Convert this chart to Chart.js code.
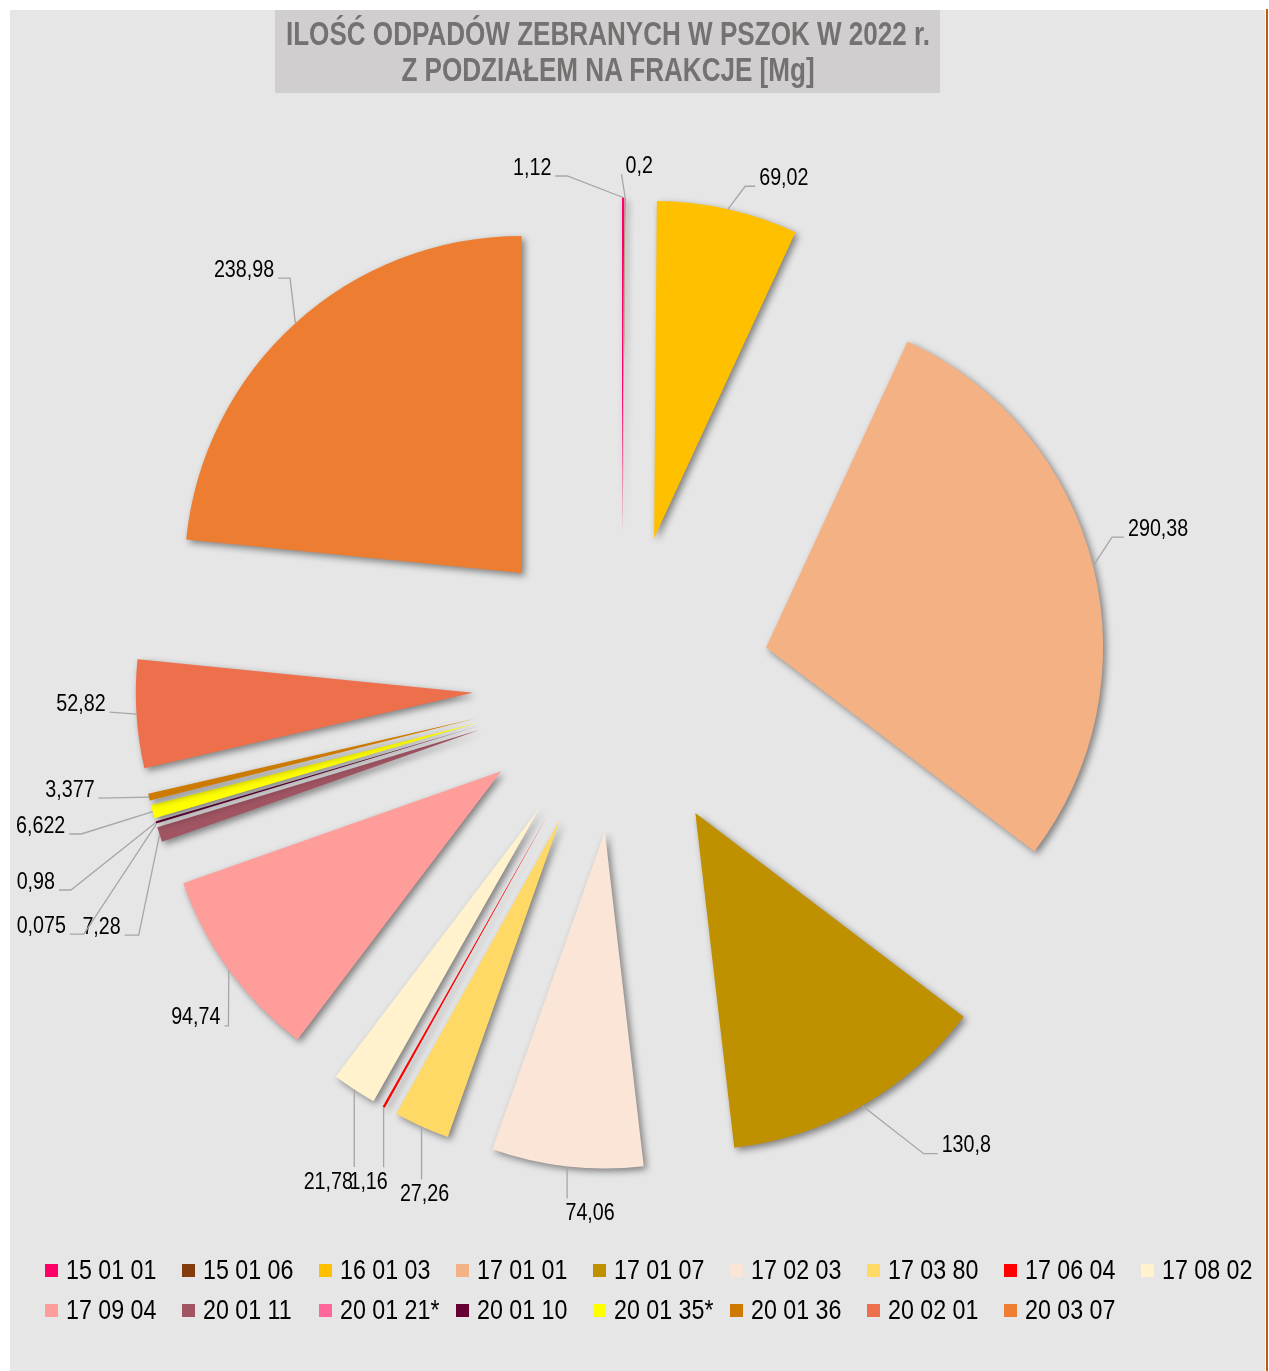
<!DOCTYPE html>
<html lang="pl">
<head>
<meta charset="utf-8">
<title>PSZOK 2022</title>
<script src="https://cdn.jsdelivr.net/npm/chart.js@4.4.0/dist/chart.umd.min.js"></script>
<style>
  html, body { margin: 0; padding: 0; background: #fff; }
  body { width: 1269px; height: 1371px; position: relative; overflow: hidden;
         font-family: 'Liberation Sans', Arial, sans-serif; }
  #panel { position: absolute; left: 10px; top: 10px; width: 1255px; height: 1361px; background: #e6e6e6; }
  #edge { position: absolute; left: 1266px; top: 9px; width: 2px; height: 1362px; background: #c55a11; }
  #title { position: absolute; left: 275px; top: 10px; width: 665px; height: 83px; box-sizing: border-box;
           padding-top: 6px; background: #d0cece; color: #767171; font-weight: bold;
           font-size: 33px; line-height: 36px; text-align: center; white-space: nowrap; }
  #title span { display: block; width: 1000px; margin-left: -167.5px;
                transform: scaleX(0.79); transform-origin: center; }
  #chart { position: absolute; left: 0; top: 0; }
  #legend { position: absolute; left: 45px; top: 1250px; display: grid;
            grid-template-columns: repeat(9, 137px); }
  .item { display: flex; align-items: center; height: 40px; font-size: 28px; color: #000; white-space: nowrap; }
  .item i { display: block; width: 13px; height: 13px; margin-right: 8px; flex: none; }
  .item span { display: inline-block; transform: scaleX(0.83); transform-origin: left center; }
</style>
</head>
<body>
<div id="panel"></div>
<div id="edge"></div>
<canvas id="chart" width="1269" height="1371"></canvas>
<div id="title"><span>ILOŚĆ ODPADÓW ZEBRANYCH W PSZOK W 2022 r.</span><span>Z PODZIAŁEM NA FRAKCJE [Mg]</span></div>
<div id="legend"></div>
<script>
// kody odpadów i ilości [Mg]
const categories = ['15 01 01', '15 01 06', '16 01 03', '17 01 01', '17 01 07', '17 02 03', '17 03 80',
  '17 06 04', '17 08 02', '17 09 04', '20 01 11', '20 01 21*', '20 01 10', '20 01 35*', '20 01 36',
  '20 02 01', '20 03 07'];
const amounts = [1.12, 0.2, 69.02, 290.38, 130.8, 74.06, 27.26, 1.16, 21.78, 94.74, 7.28, 0.075, 0.98,
  6.622, 3.377, 52.82, 238.98];
const colors = ['#ff0066', '#843c0c', '#ffc000', '#f4b183', '#bf9000', '#fbe5d6', '#ffd966', '#ff0000',
  '#fff2cc', '#ff9d9a', '#a15563', '#ff6699', '#660033', '#ffff00', '#cc7a00', '#ed6f4b', '#ed7d31'];

// ustawienia etykiet: przesunięcie tekstu od punktu na łuku, strona linii, długość załamania
const labelShift = [[-91, -29.5], [14, -31.5], [56, -31], [65, -37], [104, 40], [23, 47], [3, 68],
  [-15, 75], [-26, 92.5], [-33, 48], [-58, 92.5], [-115, 102], [-120, 59.5], [-112, 14.4], [-79, -7],
  [-55.5, -10], [-51.4, -53]];
const labelSide = ['left', 'right', 'right', 'right', 'right', 'below', 'below', 'below', 'below',
  'left', 'left', 'left', 'left', 'left', 'left', 'left', 'left'];
const labelElbow = [12, 0, 10, 12, 14, 0, 0, 0, 0, 4, 14, 14, 12, 12, 0, 0, 12];

const EXPLODE = 149;   // odsunięcie wycinków od środka
const RADIUS = 337;
const NARROW = 0.82;   // Arial Narrow ~ Arial zwężony
const FONT = '"Liberation Sans", Arial, sans-serif';

// wycinek odsunięty od środka (bez zmiany promienia i kąta jak przy wbudowanym offset)
class ExplodedArc extends Chart.ArcElement {
  draw(ctx) {
    const half = (this.startAngle + this.endAngle) / 2;
    ctx.save();
    ctx.translate(Math.cos(half) * EXPLODE, Math.sin(half) * EXPLODE);
    ctx.shadowColor = 'rgba(0,0,0,0.45)';
    ctx.shadowBlur = 7;
    ctx.shadowOffsetX = 3;
    ctx.shadowOffsetY = 3;
    super.draw(ctx);
    ctx.restore();
  }
}
ExplodedArc.id = 'explodedArc';

class ExplodedPie extends Chart.PieController {}
ExplodedPie.id = 'explodedPie';
ExplodedPie.defaults = { dataElementType: 'explodedArc' };

Chart.register(ExplodedArc, ExplodedPie);

const pieLabels = {
  id: 'pieLabels',
  afterDatasetsDraw(chart) {
    const ctx = chart.ctx;
    const meta = chart.getDatasetMeta(0);
    ctx.save();
    ctx.font = '24px ' + FONT;
    ctx.textAlign = 'center';
    ctx.textBaseline = 'middle';
    ctx.strokeStyle = '#a6a6a6';
    ctx.lineWidth = 1.3;
    ctx.fillStyle = '#000';
    meta.data.forEach((arc, i) => {
      const half = (arc.startAngle + arc.endAngle) / 2;
      const r = arc.outerRadius + EXPLODE;
      const ax = arc.x + Math.cos(half) * r;
      const ay = arc.y + Math.sin(half) * r;
      const txt = String(amounts[i]).replace('.', ',');
      const tx = ax + labelShift[i][0];
      const ty = ay + labelShift[i][1];
      const w = ctx.measureText(txt).width * NARROW;
      ctx.beginPath();
      ctx.moveTo(ax, ay);
      if (labelSide[i] === 'below') {
        ctx.lineTo(ax, ty - 15);
      } else {
        const dir = labelSide[i] === 'left' ? 1 : -1;
        const ex = tx + dir * (w / 2 + 4);
        const ey = ty + 8;
        if (labelElbow[i]) ctx.lineTo(ex + dir * labelElbow[i], ey);
        ctx.lineTo(ex, ey);
      }
      ctx.stroke();
      ctx.save();
      ctx.translate(tx, ty);
      ctx.scale(NARROW, 1);
      ctx.fillText(txt, 0, 0);
      ctx.restore();
    });
    ctx.restore();
  }
};

new Chart(document.getElementById('chart'), {
  type: 'explodedPie',
  data: {
    labels: categories,
    datasets: [{
      data: amounts,
      backgroundColor: colors,
      borderWidth: 0
    }]
  },
  options: {
    responsive: false,
    animation: false,
    events: [],
    radius: RADIUS,
    layout: { padding: { left: 0, top: 0, right: 26, bottom: 4 } },
    plugins: {
      legend: { display: false },
      tooltip: { enabled: false }
    }
  },
  plugins: [pieLabels]
});

// legenda
const legend = document.getElementById('legend');
categories.forEach((c, i) => {
  const el = document.createElement('div');
  el.className = 'item';
  el.innerHTML = `<i style="background:${colors[i]}"></i><span>${c}</span>`;
  legend.appendChild(el);
});
</script>
</body>
</html>
